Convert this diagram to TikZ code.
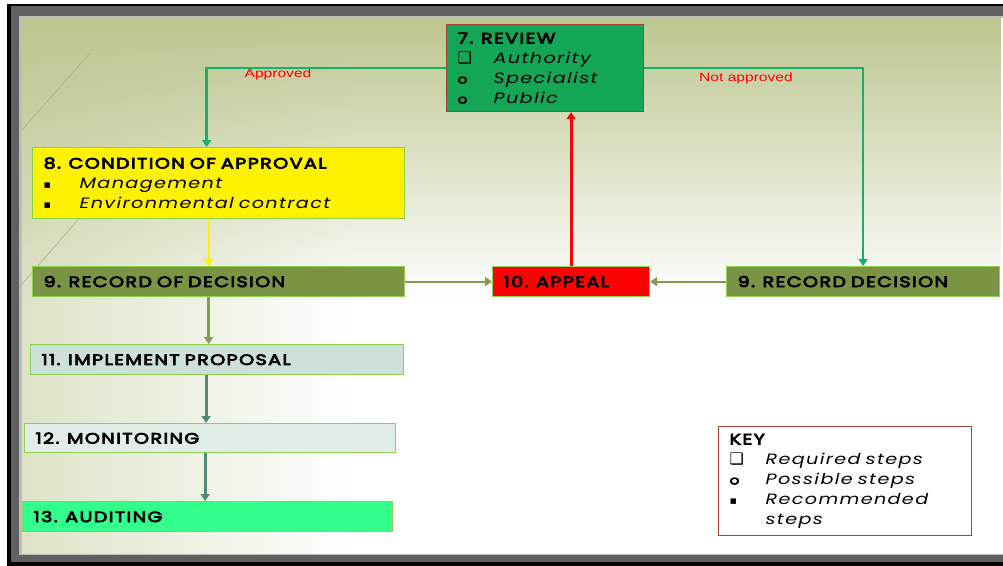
\documentclass[tikz,border=0pt]{standalone}
\usepackage{fontspec}
\setmainfont{Poppins}[FakeStretch=1.28, LetterSpace=9, BoldFont={Poppins}, BoldFeatures={FakeBold=5}]
\newfontfamily\symfont{DejaVu Sans}
\newfontfamily\lblfont[FakeStretch=1.3]{Liberation Sans}
\usepackage{tikz}
\usetikzlibrary{positioning,arrows.meta,fadings}

\definecolor{bgolive}{HTML}{BCC68F}
\definecolor{bgline}{HTML}{A9AE8E}
\definecolor{framegray}{HTML}{606060}
\definecolor{framelight}{HTML}{BDBDBD}
\definecolor{boxline}{HTML}{8FD14F}
\definecolor{revgreen}{HTML}{12A656}
\definecolor{revborder}{HTML}{A0442C}
\definecolor{recolive}{HTML}{7B9443}
\definecolor{implblue}{HTML}{CDE1DA}
\definecolor{monlight}{HTML}{E2ECE9}
\definecolor{auditgreen}{HTML}{33FF8C}
\definecolor{keyborder}{HTML}{A0473A}
\definecolor{gline}{HTML}{10B36A}
\definecolor{oline}{HTML}{849A4C}
\definecolor{tline}{HTML}{4E8C78}

\pgfdeclarehorizontalshading{bgleft}{100bp}{color(0bp)=(bgolive); color(12bp)=(bgolive!88!white); color(42bp)=(white); color(100bp)=(white)}
\tikzfading[name=fadetop, top color=transparent!0, bottom color=transparent!100]

\newcommand{\reqmark}{{\symfont\fontsize{16}{16}\selectfont ❑}}
\newcommand{\posmark}{{\bfseries\fontsize{12}{12}\selectfont o}}
\newcommand{\recmark}{{\symfont\fontsize{11}{11}\selectfont ▪}}
\newcommand{\keyitem}[2]{\makebox[36pt][l]{#1}{\mdseries\itshape #2}}

\begin{document}
\begin{tikzpicture}[
  x=1pt, y=-1pt,
  >={Triangle[length=7pt,width=9pt]},
  box/.style={
    draw=boxline, line width=1.2pt, anchor=north west, align=left,
    inner xsep=11pt, inner ysep=0pt, minimum height=30pt,
    font=\fontsize{15}{20}\selectfont\bfseries
  },
  arrow/.style={->, line width=2.4pt},
  lbl/.style={text=red, inner sep=0pt, font=\lblfont\fontsize{12}{12}\selectfont}
]
\useasboundingbox (0,0) rectangle (1003,565);
\fill[black] (7,4) rectangle (1010,570);
\fill[framegray] (11,6) rectangle (1010,562);
\fill[framelight] (19,16) rectangle (1010,555);
\shade[shading=bgleft] (22,18) rectangle (1003,553);
\fill[bgolive, path fading=fadetop] (22,18) rectangle (1003,300);
\draw[bgline, line width=0.6pt] (90,53) -- (22,130);
\draw[bgline, line width=0.6pt] (84,213) -- (22,284);

\node (n7) [box, fill=revgreen, draw=revborder, text width=175pt, minimum height=87pt] at (446,24)
  {7. REVIEW\\ \keyitem{\reqmark}{Authority}\\ \keyitem{\posmark}{Specialist}\\ \keyitem{\posmark}{Public}};

\node (n8) [box, fill=yellow, text width=350pt, minimum height=71pt] at (32,147)
  {8. CONDITION OF APPROVAL\\ \keyitem{\recmark}{Management}\\ \keyitem{\recmark}{Environmental contract}};

\node (n9a) [box, fill=recolive, text width=350pt] at (32,266) {9. RECORD OF DECISION};
\node (n10) [box, fill=red, text width=135pt] at (492,266) {10. APPEAL};
\node (n9b) [box, fill=recolive, text width=251pt] at (726,266) {9. RECORD DECISION};
\node (n11) [box, fill=implblue, text width=351pt] at (30,344) {11. IMPLEMENT PROPOSAL};
\node (n12) [box, fill=monlight, text width=349pt, minimum height=29pt] at (24,423) {12. MONITORING};
\node (n13) [box, fill=auditgreen, text width=348pt] at (22,501) {13. AUDITING};

\node (key) [box, fill=white, draw=keyborder, text width=231pt, minimum height=109pt] at (718,426)
  {KEY\\ \keyitem{\reqmark}{Required steps}\\ \keyitem{\posmark}{Possible steps}\\
   \keyitem{\recmark}{Recommended}\\ \hspace*{36pt}{\mdseries\itshape steps}};

\node (lapp) [lbl] at (278,74) {Approved};
\node (lnot) [lbl] at (746,78) {Not approved};

\draw[arrow, gline] (n7.west) -| ([xshift=-12pt]n8.north);
\draw[arrow, gline] (n7.east) -| (n9b.north);
\draw[arrow, yellow, line width=2pt] ([xshift=-10pt]n8.south) -- ([xshift=-10pt]n9a.north);
\draw[arrow, oline, line width=2pt] (n9a.east) -- (n10.west);
\draw[arrow, oline, line width=2pt] (n9b.west) -- (n10.east);
\draw[arrow, red, line width=3pt] (n10.north) -- (n10.north |- n7.south);
\draw[arrow, oline, line width=3pt] ([xshift=-10pt]n9a.south) -- ([xshift=-10pt]n9a.south |- n11.north);
\draw[arrow, tline, line width=3pt] ([xshift=-11pt]n11.south) -- ([xshift=-11pt]n11.south |- n12.north);
\draw[arrow, tline, line width=3pt] ([xshift=-5pt]n12.south) -- ([xshift=-5pt]n12.south |- n13.north);
\end{tikzpicture}
\end{document}
